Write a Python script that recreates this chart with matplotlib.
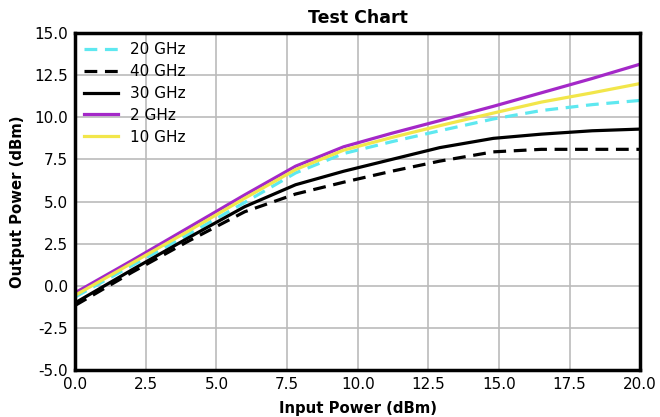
import matplotlib
matplotlib.use("Agg")
import matplotlib.pyplot as plt

# input power points (dBm)
input_dbm = [0, 2, 4, 6, 7.8, 9.5, 11.2, 12.9, 14.8, 16.5, 18.3, 20]

# output power per frequency (dBm)
out_20ghz = [-0.65, 1.2, 3.05, 4.95, 6.7, 7.85, 8.55, 9.2, 9.9, 10.4, 10.75, 11.0]
out_40ghz = [-1.15, 0.8, 2.65, 4.4, 5.45, 6.15, 6.8, 7.4, 7.95, 8.1, 8.1, 8.1]
out_30ghz = [-1.0, 0.95, 2.85, 4.7, 6.0, 6.8, 7.5, 8.2, 8.75, 9.0, 9.2, 9.3]
out_2ghz = [-0.4, 1.5, 3.45, 5.4, 7.1, 8.25, 9.05, 9.8, 10.65, 11.45, 12.3, 13.15]
out_10ghz = [-0.55, 1.35, 3.25, 5.2, 6.9, 8.05, 8.8, 9.5, 10.25, 10.9, 11.45, 12.0]

fig, ax = plt.subplots(figsize=(6.6, 4.17), dpi=100)

dash = (0, (4, 2.4))
ax.plot(input_dbm, out_20ghz, color="#5ee8f0", lw=2.3, ls=dash, label="20 GHz")
ax.plot(input_dbm, out_40ghz, color="black", lw=2.3, ls=dash, label="40 GHz")
ax.plot(input_dbm, out_30ghz, color="black", lw=2.3, label="30 GHz")
ax.plot(input_dbm, out_2ghz, color="#a428c8", lw=2.3, label="2 GHz")
ax.plot(input_dbm, out_10ghz, color="#f2e64a", lw=2.3, label="10 GHz")

ax.set_xlim(0, 20)
ax.set_ylim(-5, 15)
ax.set_xticks([0, 2.5, 5, 7.5, 10, 12.5, 15, 17.5, 20])
ax.set_yticks([-5, -2.5, 0, 2.5, 5, 7.5, 10, 12.5, 15])
ax.xaxis.set_major_formatter(matplotlib.ticker.FormatStrFormatter("%.1f"))
ax.yaxis.set_major_formatter(matplotlib.ticker.FormatStrFormatter("%.1f"))
ax.tick_params(length=0, labelsize=11, pad=5)
ax.grid(True, color="#bbbbbb", lw=1.2)
ax.set_axisbelow(True)
for s in ax.spines.values():
    s.set_linewidth(2.5)

ax.set_title("Test Chart", fontweight="bold", fontsize=12.5, pad=7)
ax.set_xlabel("Input Power (dBm)", fontweight="bold", fontsize=10.7, labelpad=6)
ax.set_ylabel("Output Power (dBm)", fontweight="bold", fontsize=10.7, labelpad=7)

ax.legend(loc="upper left", frameon=False, fontsize=11, handlelength=2.2,
          labelspacing=0.45, borderaxespad=0.4, borderpad=0.2)

plt.subplots_adjust(left=0.114, right=0.97, top=0.921, bottom=0.112)
plt.savefig("out.png")
